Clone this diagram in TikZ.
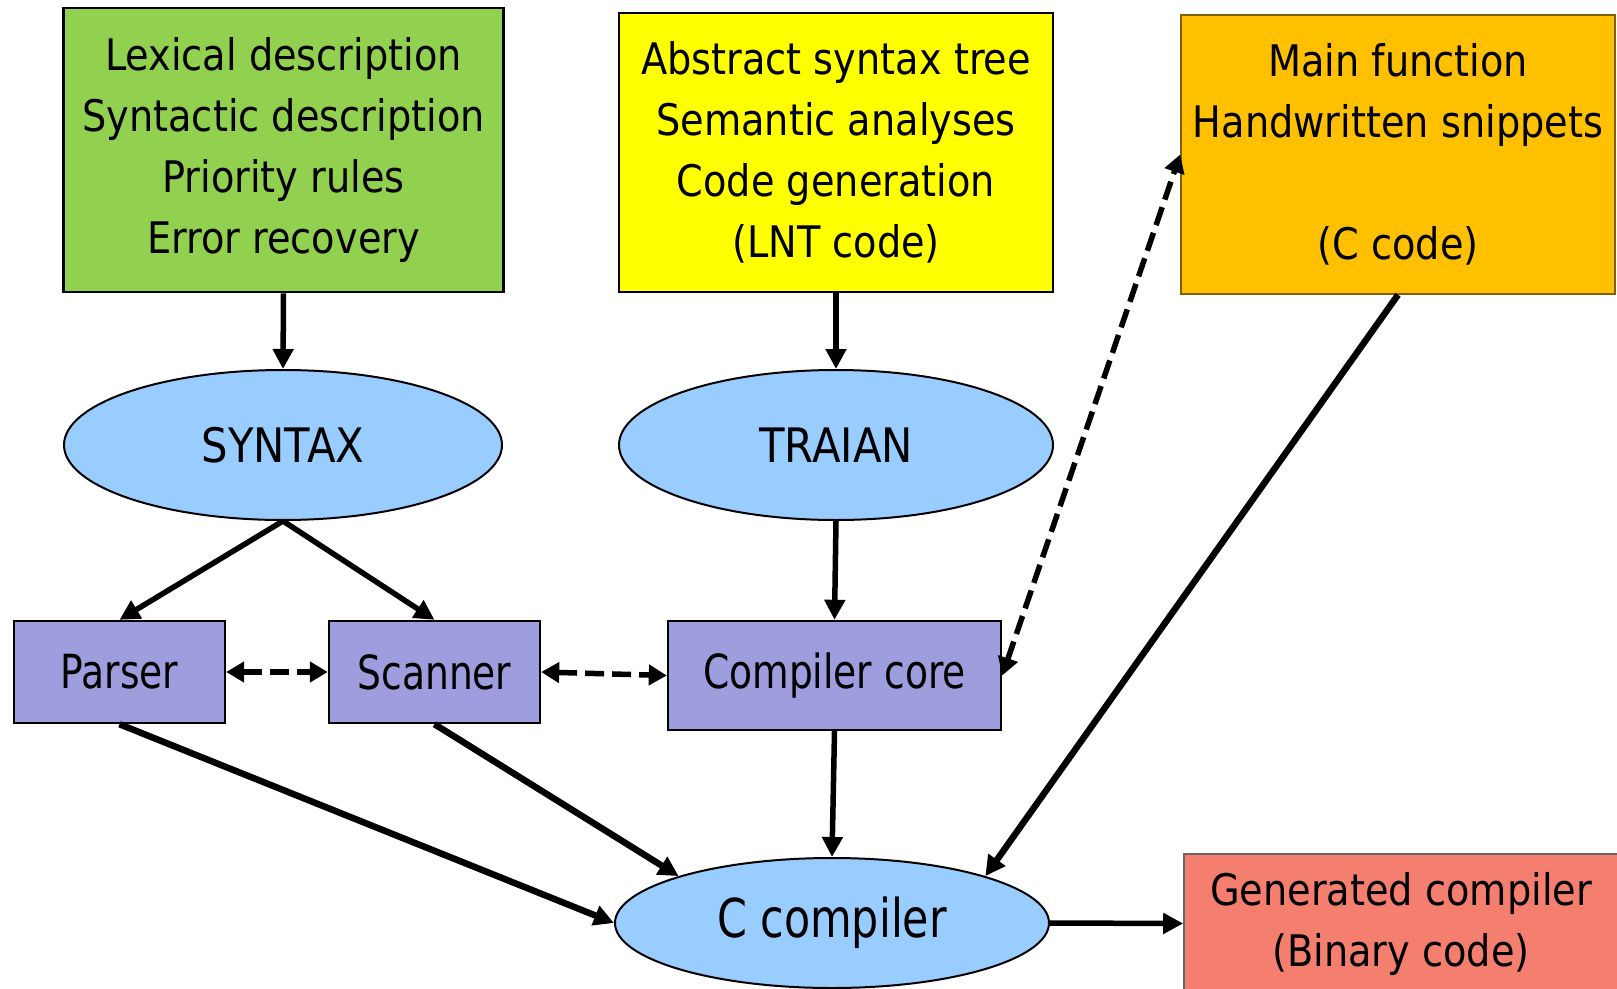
\documentclass[tikz,border=0pt]{standalone}
\usepackage{fontspec}
\setmainfont{DejaVu Sans}[FakeStretch=0.88]
\newfontfamily\condfont{DejaVu Sans}[FakeStretch=0.8]
\usetikzlibrary{arrows.meta,shapes.geometric}
\definecolor{cgreen}{HTML}{92D050}
\definecolor{cyellow}{HTML}{FFFF00}
\definecolor{corange}{HTML}{FFC000}
\definecolor{cblue}{HTML}{99CCFF}
\definecolor{cpurple}{HTML}{9E9EDE}
\definecolor{csalmon}{HTML}{F47F6E}
\definecolor{cbrown}{HTML}{7F6000}
\begin{document}
\begin{tikzpicture}[x=1pt,y=-1pt,
  topbox/.style={draw=black, line width=2.6pt, align=center, inner sep=0pt, font=\fontsize{43.5}{61}\selectfont},
  oval/.style={ellipse, draw=black, line width=2pt, fill=cblue, inner sep=0pt, font=\fontsize{47.5}{50}\selectfont},
  smallbox/.style={draw=black, line width=2.4pt, fill=cpurple, inner sep=0pt, font=\condfont\fontsize{47}{50}\selectfont},
  arr/.style={line width=5.5pt, -{Triangle[length=20pt,width=20pt]}},
  thickarr/.style={arr, line width=6.5pt},
  darr/.style={line width=5.5pt, dash pattern=on 19pt off 8pt, {Triangle[length=18pt,width=20pt]}-{Triangle[length=18pt,width=20pt]}}
]
\useasboundingbox (0,0) rectangle (1617,988);
\node[topbox, fill=cgreen, minimum width=440pt, minimum height=284pt] (lex) at (283.5,150) {Lexical description\\Syntactic description\\Priority rules\\Error recovery};
\node[topbox, fill=cyellow, minimum width=434pt, minimum height=279pt] (ast) at (836,152.5) {Abstract syntax tree\\Semantic analyses\\Code generation\\(LNT code)};
\node[topbox, fill=corange, draw=cbrown, line width=1.6pt, minimum width=434pt, minimum height=279pt] (main) at (1398,154.5) {Main function\\Handwritten snippets\\[61pt](C code)};
\node[oval, minimum width=438pt, minimum height=150pt] (syntax) at (283,445) {SYNTAX};
\node[oval, minimum width=434pt, minimum height=150pt] (traian) at (836,445) {TRAIAN};
\node[smallbox, minimum width=211pt, minimum height=102pt] (parser) at (119.5,672) {Parser};
\node[smallbox, minimum width=211pt, minimum height=102pt] (scanner) at (434.5,672) {Scanner};
\node[smallbox, minimum width=333pt, minimum height=109pt] (core) at (834.5,675.5) {Compiler core};
\node[oval, minimum width=434pt, minimum height=130pt, font=\condfont\fontsize{53.5}{55}\selectfont] (ccomp) at (832,923) {C compiler};
\node[topbox, fill=csalmon, draw=black!60, line width=1.6pt, minimum width=434pt, minimum height=139pt] (gen) at (1401,923.5) {Generated compiler\\(Binary code)};

\draw[arr] (lex.south) -- (syntax.north);
\draw[arr] (ast.south) -- (traian.north);
\draw[arr] (syntax.south) -- (parser.north);
\draw[arr] (syntax.south) -- (scanner.north);
\draw[arr] (traian.south) -- (core.north);
\draw[darr] (parser.east) -- (scanner.west);
\draw[darr] (scanner.east) -- (core.west);
\draw[darr] (core.east) -- (main.west);
\draw[thickarr] (main.south) -- (ccomp.17);
\draw[thickarr] (parser.south) -- (ccomp.west);
\draw[thickarr] (scanner.south) -- (ccomp.163);
\draw[arr] (core.south) -- (ccomp.north);
\draw[arr] (ccomp.east) -- (gen.west);
\end{tikzpicture}
\end{document}
